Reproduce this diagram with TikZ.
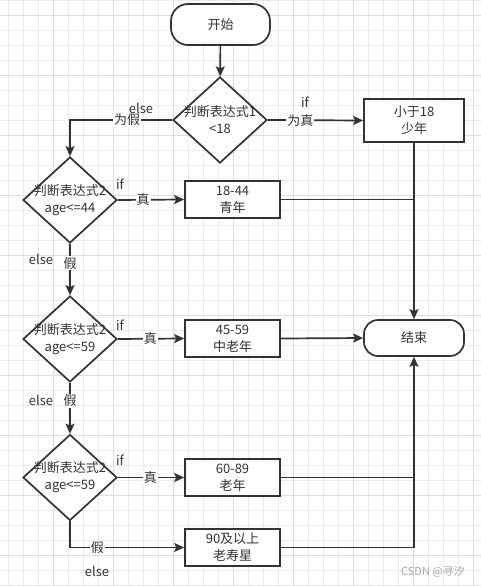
\documentclass[tikz,border=0pt]{standalone}
\usepackage{fontspec}
\setmainfont{Noto Sans CJK SC}
\usetikzlibrary{shapes.geometric,arrows.meta}
\definecolor{linegray}{HTML}{333333}
\definecolor{gridgray}{HTML}{EBEBEB}
\definecolor{gridmajor}{HTML}{DEDEDE}
\begin{document}
\begin{tikzpicture}[x=1pt, y=-1pt,
  font=\fontsize{13}{17}\selectfont, text=linegray,
  gridline/.style={gridgray, line width=0.9pt},
  gridbold/.style={gridmajor, line width=1pt},
  term/.style={draw=linegray, line width=1.7pt, rectangle, rounded corners=17pt, fill=white, minimum width=99pt, minimum height=41pt},
  box/.style={draw=linegray, line width=1.7pt, rectangle, fill=white, align=center, minimum width=95pt, minimum height=37pt, inner sep=0pt},
  cond/.style={draw=linegray, line width=1.7pt, diamond, fill=white, minimum width=94pt, minimum height=86pt, inner sep=0pt},
  flow/.style={draw=linegray, line width=1.7pt, -{Stealth[length=10pt, width=9pt, inset=2pt]}},
  linkline/.style={draw=linegray, line width=1.7pt},
  onl/.style={fill=white, inner sep=1pt},
  tag/.style={inner sep=0pt}]
\useasboundingbox (0,0) rectangle (481,586);
\fill[white] (0,0) rectangle (481,586);
% grid
\foreach \gx in {8.3,23.3,...,481} \draw[gridline] (\gx,0) -- (\gx,586);
\foreach \gy in {0.7,15.7,...,586} \draw[gridline] (0,\gy) -- (481,\gy);
\foreach \gx in {53.3,113.3,...,481} \draw[gridbold] (\gx,0) -- (\gx,586);
\foreach \gy in {15.7,75.7,...,586} \draw[gridbold] (0,\gy) -- (481,\gy);

\node[term] (start) at (220.5,24.5) {开始};
\node[cond] (d1) at (220,120) {};
\node[align=center] (t1) at (d1) {判断表达式1\\<18};
\node[box, minimum width=100pt, minimum height=43pt] (shao) at (414,120.5) {小于18\\少年};
\node[cond] (d2) at (70,200) {};
\node[align=center] (t2) at (d2) {判断表达式2\\age<=44};
\node[box] (qing) at (232.5,199.5) {18-44\\青年};
\node[term, minimum width=100pt, minimum height=36pt, rounded corners=14pt] (end) at (414,338) {结束};
\node[cond] (d3) at (70,339) {};
\node[align=center] (t3) at (d3) {判断表达式2\\age<=59};
\node[box] (zhong) at (232.5,338.5) {45-59\\中老年};
\node[cond] (d4) at (70,477.5) {};
\node[align=center] (t4) at (d4) {判断表达式2\\age<=59};
\node[box] (lao) at (232.5,477.5) {60-89\\老年};
\node[box] (shou) at (232.5,547.5) {90及以上\\老寿星};

\draw[flow] (start) -- (d1);
\draw[flow] (d1.east) -- (shao.west) node[onl, pos=0.34] (yes1) {为真};
\draw[flow] (d1.west) -| (d2.north) node[onl, pos=0.22] (no1) {为假};
\draw[flow] (d2.east) -- (qing.west) node[onl, pos=0.38] (yes2) {真};
\draw[flow] (d2.south) -- (d3.north) node[onl, pos=0.38] (no2) {假};
\draw[flow] (d3.east) -- (zhong.west) node[onl, pos=0.49] (yes3) {真};
\draw[flow] (d3.south) -- (d4.north) node[onl, pos=0.35] (no3) {假};
\draw[flow] (d4.east) -- (lao.west) node[onl, pos=0.49] (yes4) {真};
\draw[flow] (d4.south) |- (shou.west) node[onl, pos=0.62] (no4) {假};
\draw[flow] (shao) -- (end);
\draw[linkline] (qing.east) -- (qing.east -| end.north);
\draw[flow] (zhong.east) -- (end.west);
\draw[linkline] (lao.east) -- (lao.east -| end.south);
\draw[flow] (shou.east) -| (end.south);

% if / else tags
\node[tag] (if1) at (305,102) {if};
\node[tag] (else1) at (141,108) {else};
\node[tag] (if2) at (120,184) {if};
\node[tag] (else2) at (41,259) {else};
\node[tag] (if3) at (120,325) {if};
\node[tag] (else3) at (41,400) {else};
\node[tag] (if4) at (120,460) {if};
\node[tag] (else4) at (97,571) {else};

\node[tag, text=gray!70, font=\fontsize{11}{13}\selectfont] (mark) at (433,572) {CSDN @寻汐};
\end{tikzpicture}
\end{document}
